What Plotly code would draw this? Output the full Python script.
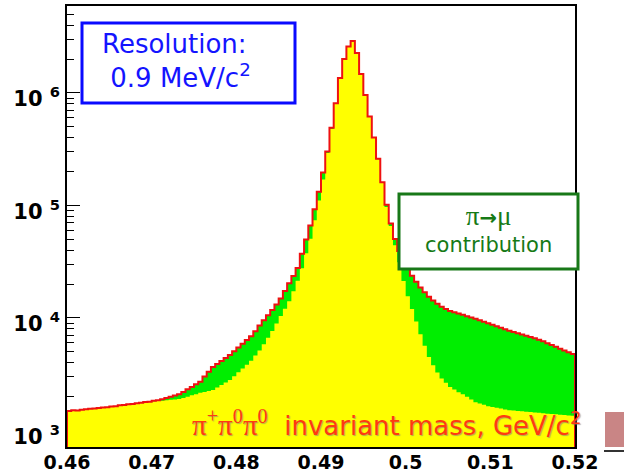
import numpy as np
import plotly.graph_objects as go

# ---------------- data ----------------
bin_start = 0.46
bin_width = 0.0005

total_counts = [
    1490, 1510, 1505, 1530, 1540, 1560, 1565, 1585, 1600, 1610,
    1635, 1645, 1675, 1680, 1710, 1720, 1745, 1760, 1790, 1800,
    1835, 1855, 1895, 1940, 1995, 2045, 2100, 2200, 2320, 2440,
    2575, 2715, 3025, 3325, 3670, 3900, 4150, 4410, 4690, 5060,
    5460, 5900, 6360, 6890, 7630, 8580, 9520, 10570, 11780, 13160,
    14880, 17380, 20310, 23630, 27830, 37290, 49760, 66430, 92530, 132300,
    196500, 302000, 490600, 811900, 1360000, 2006000, 2585000, 2900000, 2268000, 1475000,
    960000, 618200, 402200, 259600, 161200, 101500, 69180, 50390, 39410, 32780,
    27490, 23720, 21020, 18640, 16960, 15440, 14280, 13350, 12580, 12020,
    11540, 11240, 10940, 10660, 10370, 10100, 9817, 9541, 9253, 8972,
    8701, 8439, 8183, 7936, 7711, 7510, 7311, 7135, 6947, 6765,
    6587, 6413, 6194, 5970, 5754, 5546, 5335, 5142, 4956, 4776,
]

signal_counts = [
    1490, 1510, 1505, 1530, 1540, 1560, 1565, 1585, 1600, 1610,
    1635, 1645, 1675, 1680, 1710, 1720, 1745, 1760, 1790, 1800,
    1822, 1837, 1837, 1854, 1871, 1886, 1902, 1945, 1998, 2051,
    2102, 2159, 2199, 2244, 2291, 2412, 2538, 2671, 2811, 3039,
    3285, 3551, 3837, 4173, 4643, 5142, 5838, 6656, 7665, 8919,
    10390, 12070, 14050, 17280, 21420, 27600, 37590, 50580, 73880, 110800,
    170300, 292900, 478600, 800000, 1355000, 2000000, 2580000, 2895000, 2262000, 1470000,
    955000, 614000, 399000, 257000, 158500, 96980, 65740, 44200, 31330, 21280,
    15560, 12020, 9290, 7150, 5660, 4502, 3791, 3271, 2893, 2649,
    2436, 2310, 2190, 2102, 1989, 1883, 1778, 1734, 1689, 1644,
    1614, 1588, 1566, 1534, 1515, 1503, 1491, 1478, 1467, 1457,
    1445, 1434, 1422, 1411, 1402, 1390, 1379, 1371, 1360, 1351,
]

x_tick_vals = [0.46, 0.47, 0.48, 0.49, 0.50, 0.51, 0.52]
x_tick_text = ["0.46", "0.47", "0.48", "0.49", "0.5", "0.51", "0.52"]
y_tick_vals = [1e3, 1e4, 1e5, 1e6]
y_tick_text = ["10 <sup>3</sup>", "10 <sup>4</sup>", "10 <sup>5</sup>", "10 <sup>6</sup>"]

# ---------------- geometry helpers ----------------
W, H = 624, 473
L, R, T, B = 67, 575, 6, 447


def px(xp):
    return (xp - L) / (R - L)


def py(yp):
    return (B - yp) / (B - T)


edges = bin_start + bin_width * np.arange(len(total_counts) + 1)
floor_val = 10.0

tot_y = list(total_counts) + [total_counts[-1]]
sig_y = list(signal_counts) + [signal_counts[-1]]

fig = go.Figure()

# green: total (pi->mu contribution visible above signal)
fig.add_trace(go.Scatter(
    x=edges, y=tot_y, mode="lines", line=dict(shape="hv", width=0, color="#00ee00"),
    fill="tozeroy", fillcolor="#00ee00", hoverinfo="skip"))
# yellow: signal
fig.add_trace(go.Scatter(
    x=edges, y=sig_y, mode="lines", line=dict(shape="hv", width=0, color="#ffff00"),
    fill="tozeroy", fillcolor="#ffff00", hoverinfo="skip"))
# red outline of total
fig.add_trace(go.Scatter(
    x=np.concatenate([[edges[0]], edges, [edges[-1]]]),
    y=[floor_val] + tot_y + [floor_val],
    mode="lines", line=dict(shape="hv", width=2, color="#ee1111"), hoverinfo="skip"))

minor_vals = []
for d in [100, 1000, 10000, 100000, 1000000]:
    for m in range(2, 10):
        minor_vals.append(m * d)

fig.update_layout(
    width=W, height=H,
    margin=dict(l=L, r=W - R, t=T, b=H - B, pad=0, autoexpand=False),
    paper_bgcolor="white", plot_bgcolor="white",
    showlegend=False,
    xaxis=dict(
        range=[0.46, 0.52], tickmode="array", tickvals=x_tick_vals, ticktext=x_tick_text,
        showline=True, linecolor="black", linewidth=1.5, mirror=True,
        ticks="", showgrid=False, zeroline=False, layer="below traces",
        tickfont=dict(family="DejaVu Sans", size=19, color="black", weight="bold"),
        ticklabelstandoff=-3, automargin=False,
    ),
    yaxis=dict(
        type="log", range=[2.853, 6.773], tickmode="array", tickvals=y_tick_vals,
        ticktext=y_tick_text,
        showline=True, linecolor="black", linewidth=1.5, mirror=True,
        ticks="inside", ticklen=13, tickwidth=1.3, tickcolor="black",
        minor=dict(tickmode="array", tickvals=minor_vals, ticks="inside", ticklen=7,
                   tickwidth=1.1, tickcolor="black", showgrid=False),
        showgrid=False, zeroline=False, layer="below traces",
        tickfont=dict(family="DejaVu Sans", size=21, color="black", weight="bold"),
        ticklabelstandoff=1, ticklabelshift=6, automargin=False,
    ),
)

shapes = [
    # blue box
    dict(type="rect", xref="paper", yref="paper", x0=px(82), x1=px(295), y0=py(103), y1=py(23),
         line=dict(color="#0a0aff", width=3), fillcolor="rgba(0,0,0,0)", layer="above"),
    # green box
    dict(type="rect", xref="paper", yref="paper", x0=px(399), x1=px(578), y0=py(269), y1=py(194),
         line=dict(color="#187818", width=3), fillcolor="white", layer="above"),
    # cut-off fragment at the bottom right
    dict(type="rect", xref="paper", yref="paper", x0=px(605), x1=px(626), y0=py(447), y1=py(412),
         line=dict(width=0), fillcolor="#c98585", layer="above"),
    dict(type="line", xref="paper", yref="paper", x0=px(604), x1=px(626), y0=py(451), y1=py(451),
         line=dict(color="#333333", width=2), layer="above"),
]
fig.update_layout(shapes=shapes)

serif = "font-family:'Liberation Serif'"
annotations = [
    dict(xref="paper", yref="paper", x=px(100), y=py(61), xanchor="left", yanchor="middle",
         text="Resolution:<br>\u00a00.9 MeV/c<sup>2</sup>", align="left", showarrow=False,
         font=dict(family="DejaVu Sans", size=26, color="#1414ff")),
    dict(xref="paper", yref="paper", x=px(488), y=py(229), xanchor="center", yanchor="middle",
         text=(f"<span style=\"{serif};font-size:27px\">\u03c0</span>"
               "<b>\u2192</b>"
               f"<span style=\"{serif};font-size:27px\">\u03bc</span><br>contribution"),
         align="center", showarrow=False,
         font=dict(family="DejaVu Sans", size=21, color="#167a16")),
    dict(xref="paper", yref="paper", x=px(190), y=py(423), xanchor="left", yanchor="middle",
         text=(f"<span style=\"{serif};font-size:29px\">\u03c0<sup>+</sup>\u03c0<sup>0</sup>\u03c0<sup>0</sup></span>"
               "\u00a0\u00a0invariant mass, GeV/c<sup>2</sup>"),
         align="left", showarrow=False,
         font=dict(family="DejaVu Sans", size=26, color="#ff3a10",
                   shadow="1px 1px 1px rgba(120,120,120,0.6)")),
]
fig.update_layout(annotations=annotations)

fig.write_html("out.html")
